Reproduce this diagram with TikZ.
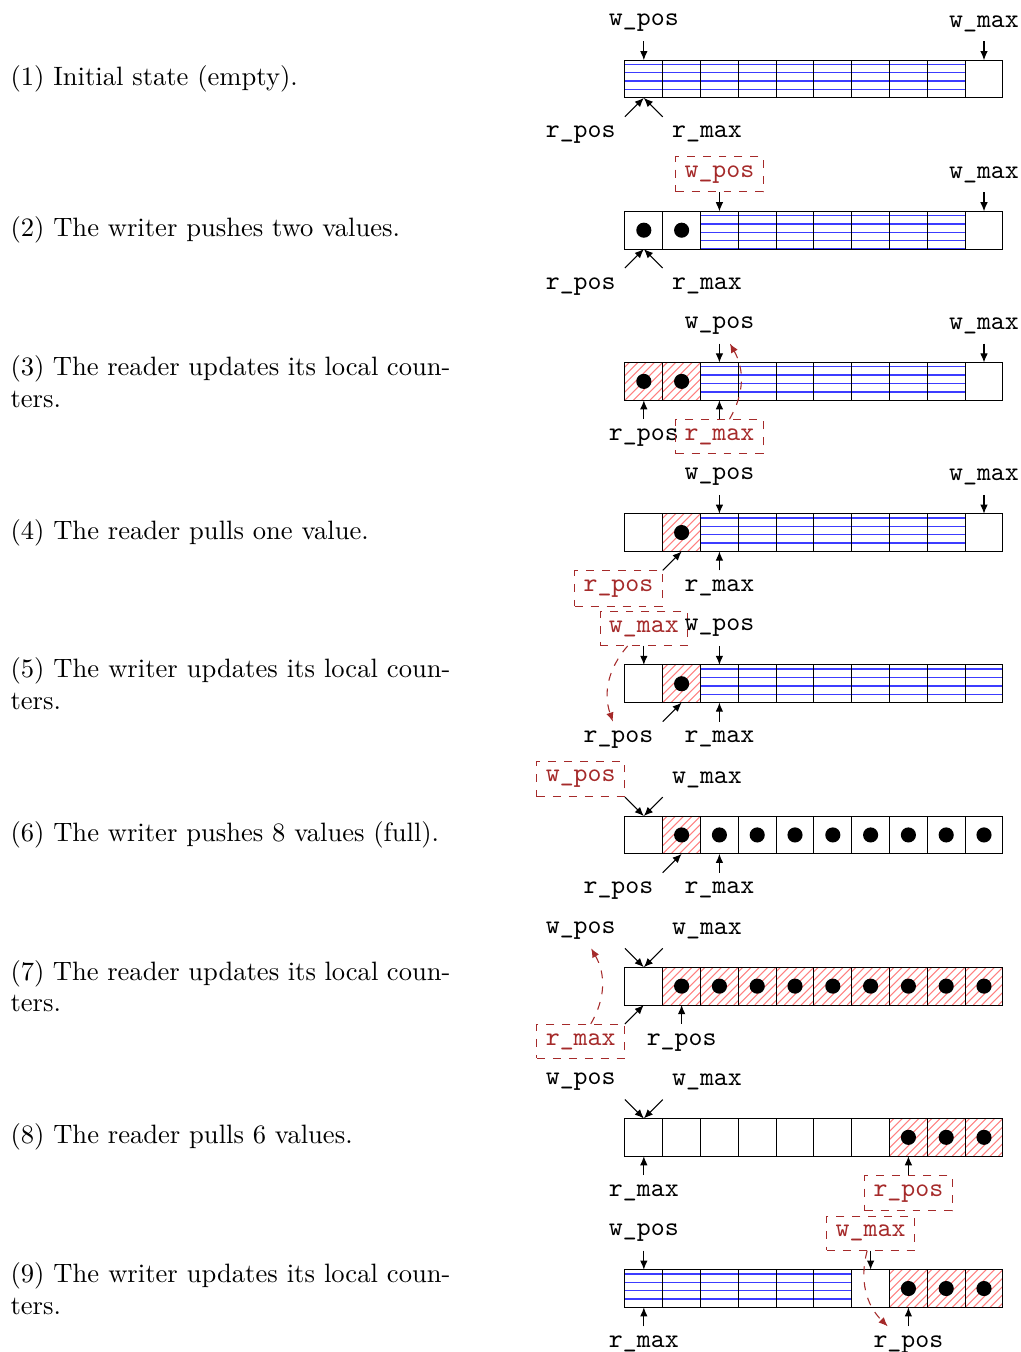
\documentclass[tikz,border=0pt]{standalone}
\usepackage{xcolor}
\usepackage{tikz}
\usetikzlibrary{positioning, arrows.meta}
\definecolor{cfree}{HTML}{3C3CFF}
\definecolor{cread}{HTML}{FF8080}
\definecolor{cupd}{HTML}{A52A2A}
\tikzset{
  cell/.style={draw, minimum size=5mm, inner sep=0pt, outer sep=0pt},
  c-e/.style={cell},
  c-f/.style={cell, path picture={
      \foreach \y in {0,...,4}
        \draw[cfree, line width=.5pt] ([yshift=\y*1.11mm]path picture bounding box.south west) -- ++(0.5,0);}},
  c-d/.style={cell, path picture={\fill (path picture bounding box.center) circle (1mm);}},
  c-x/.style={cell, path picture={
      \foreach \s in {-5,...,4}
        \draw[cread] ([xshift=\s*1.1mm]path picture bounding box.south west) -- ++(0.6,0.6);
      \fill (path picture bounding box.center) circle (1mm);}},
  lbl/.style={font=\ttfamily},
  upd/.style={lbl, draw=cupd, dashed, text=cupd},
  ptr/.style={-{Latex[length=1.2mm, width=1mm]}},
  sync/.style={-{Latex[length=1.2mm, width=1mm]}, dashed, draw=cupd, bend right},
  note/.style={anchor=west, inner sep=0pt, text width=5.82cm, align=justify},
}
% one row of the ring buffer: #1 row, #2 kinds of the ten cells
\newcommand\mkbuf[2]{%
  \foreach \t [count=\i from 0] in {#2}
    \node[c-\t] (b#1-\i) at ({0.25+0.5*\i},{-2*(#1-1)}) {};}
% a counter pointing at a cell: #1 label style, #2 name, #3 cell anchor,
% #4 shift of the arrow tail, #5 label placement, #6 text
\newcommand\mkptr[6][lbl]{%
  \coordinate (#2-t) at ([shift={#4}]#3);
  \node[#1, #5=0pt of #2-t] (#2) {#6};
  \draw[ptr] (#2-t) -- (#3);}

\begin{document}
\begin{tikzpicture}
  \useasboundingbox (-8.267,1.045) rectangle (5.238,-16.84);
  \foreach \k/\txt in {1/{(1) Initial state (empty).},
      2/{(2) The writer pushes two values.},
      3/{(3) The reader updates its local counters.},
      4/{(4) The reader pulls one value.},
      5/{(5) The writer updates its local counters.},
      6/{(6) The writer pushes 8 values (full).},
      7/{(7) The reader updates its local counters.},
      8/{(8) The reader pulls 6 values.},
      9/{(9) The writer updates its local counters.}}
    \node[note] (note\k) at (-8.135,{-2*(\k-1)}) {\txt};

  % (1)
  \mkbuf{1}{f,f,f,f,f,f,f,f,f,e}
  \mkptr{wp1}{b1-0.north}{(0,.25)}{above}{w\_pos}
  \mkptr{wm1}{b1-9.north}{(0,.25)}{above}{w\_max}
  \mkptr{rp1}{b1-0.south}{(-.25,-.25)}{below left}{r\_pos}
  \mkptr{rm1}{b1-0.south}{(.25,-.25)}{below right}{r\_max}

  % (2)
  \mkbuf{2}{d,d,f,f,f,f,f,f,f,e}
  \mkptr[upd]{wp2}{b2-2.north}{(0,.25)}{above}{w\_pos}
  \mkptr{wm2}{b2-9.north}{(0,.25)}{above}{w\_max}
  \mkptr{rp2}{b2-0.south}{(-.25,-.25)}{below left}{r\_pos}
  \mkptr{rm2}{b2-0.south}{(.25,-.25)}{below right}{r\_max}

  % (3)
  \mkbuf{3}{x,x,f,f,f,f,f,f,f,e}
  \mkptr{wp3}{b3-2.north}{(0,.25)}{above}{w\_pos}
  \mkptr{wm3}{b3-9.north}{(0,.25)}{above}{w\_max}
  \mkptr{rp3}{b3-0.south}{(0,-.25)}{below}{r\_pos}
  \mkptr[upd]{rm3}{b3-2.south}{(0,-.25)}{below}{r\_max}
  \draw[sync] (rm3) to (wp3);

  % (4)
  \mkbuf{4}{e,x,f,f,f,f,f,f,f,e}
  \mkptr{wp4}{b4-2.north}{(0,.25)}{above}{w\_pos}
  \mkptr{wm4}{b4-9.north}{(0,.25)}{above}{w\_max}
  \mkptr[upd]{rp4}{b4-1.south}{(-.25,-.25)}{below left}{r\_pos}
  \mkptr{rm4}{b4-2.south}{(0,-.25)}{below}{r\_max}

  % (5)
  \mkbuf{5}{e,x,f,f,f,f,f,f,f,f}
  \mkptr[upd]{wm5}{b5-0.north}{(0,.25)}{above}{w\_max}
  \mkptr{wp5}{b5-2.north}{(0,.25)}{above}{w\_pos}
  \mkptr{rp5}{b5-1.south}{(-.25,-.25)}{below left}{r\_pos}
  \mkptr{rm5}{b5-2.south}{(0,-.25)}{below}{r\_max}
  \draw[sync] (wm5) to (rp5);

  % (6)
  \mkbuf{6}{e,x,d,d,d,d,d,d,d,d}
  \mkptr[upd]{wp6}{b6-0.north}{(-.25,.25)}{above left}{w\_pos}
  \mkptr{wm6}{b6-0.north}{(.25,.25)}{above right}{w\_max}
  \mkptr{rp6}{b6-1.south}{(-.25,-.25)}{below left}{r\_pos}
  \mkptr{rm6}{b6-2.south}{(0,-.25)}{below}{r\_max}

  % (7)
  \mkbuf{7}{e,x,x,x,x,x,x,x,x,x}
  \mkptr{wp7}{b7-0.north}{(-.25,.25)}{above left}{w\_pos}
  \mkptr{wm7}{b7-0.north}{(.25,.25)}{above right}{w\_max}
  \mkptr[upd]{rm7}{b7-0.south}{(-.25,-.25)}{below left}{r\_max}
  \mkptr{rp7}{b7-1.south}{(0,-.25)}{below}{r\_pos}
  \draw[sync] (rm7) to (wp7);

  % (8)
  \mkbuf{8}{e,e,e,e,e,e,e,x,x,x}
  \mkptr{wp8}{b8-0.north}{(-.25,.25)}{above left}{w\_pos}
  \mkptr{wm8}{b8-0.north}{(.25,.25)}{above right}{w\_max}
  \mkptr{rm8}{b8-0.south}{(0,-.25)}{below}{r\_max}
  \mkptr[upd]{rp8}{b8-7.south}{(0,-.25)}{below}{r\_pos}

  % (9)
  \mkbuf{9}{f,f,f,f,f,f,e,x,x,x}
  \mkptr{wp9}{b9-0.north}{(0,.25)}{above}{w\_pos}
  \mkptr[upd]{wm9}{b9-6.north}{(0,.25)}{above}{w\_max}
  \mkptr{rm9}{b9-0.south}{(0,-.25)}{below}{r\_max}
  \mkptr{rp9}{b9-7.south}{(0,-.25)}{below}{r\_pos}
  \draw[sync] (wm9) to (rp9);
\end{tikzpicture}
\end{document}
